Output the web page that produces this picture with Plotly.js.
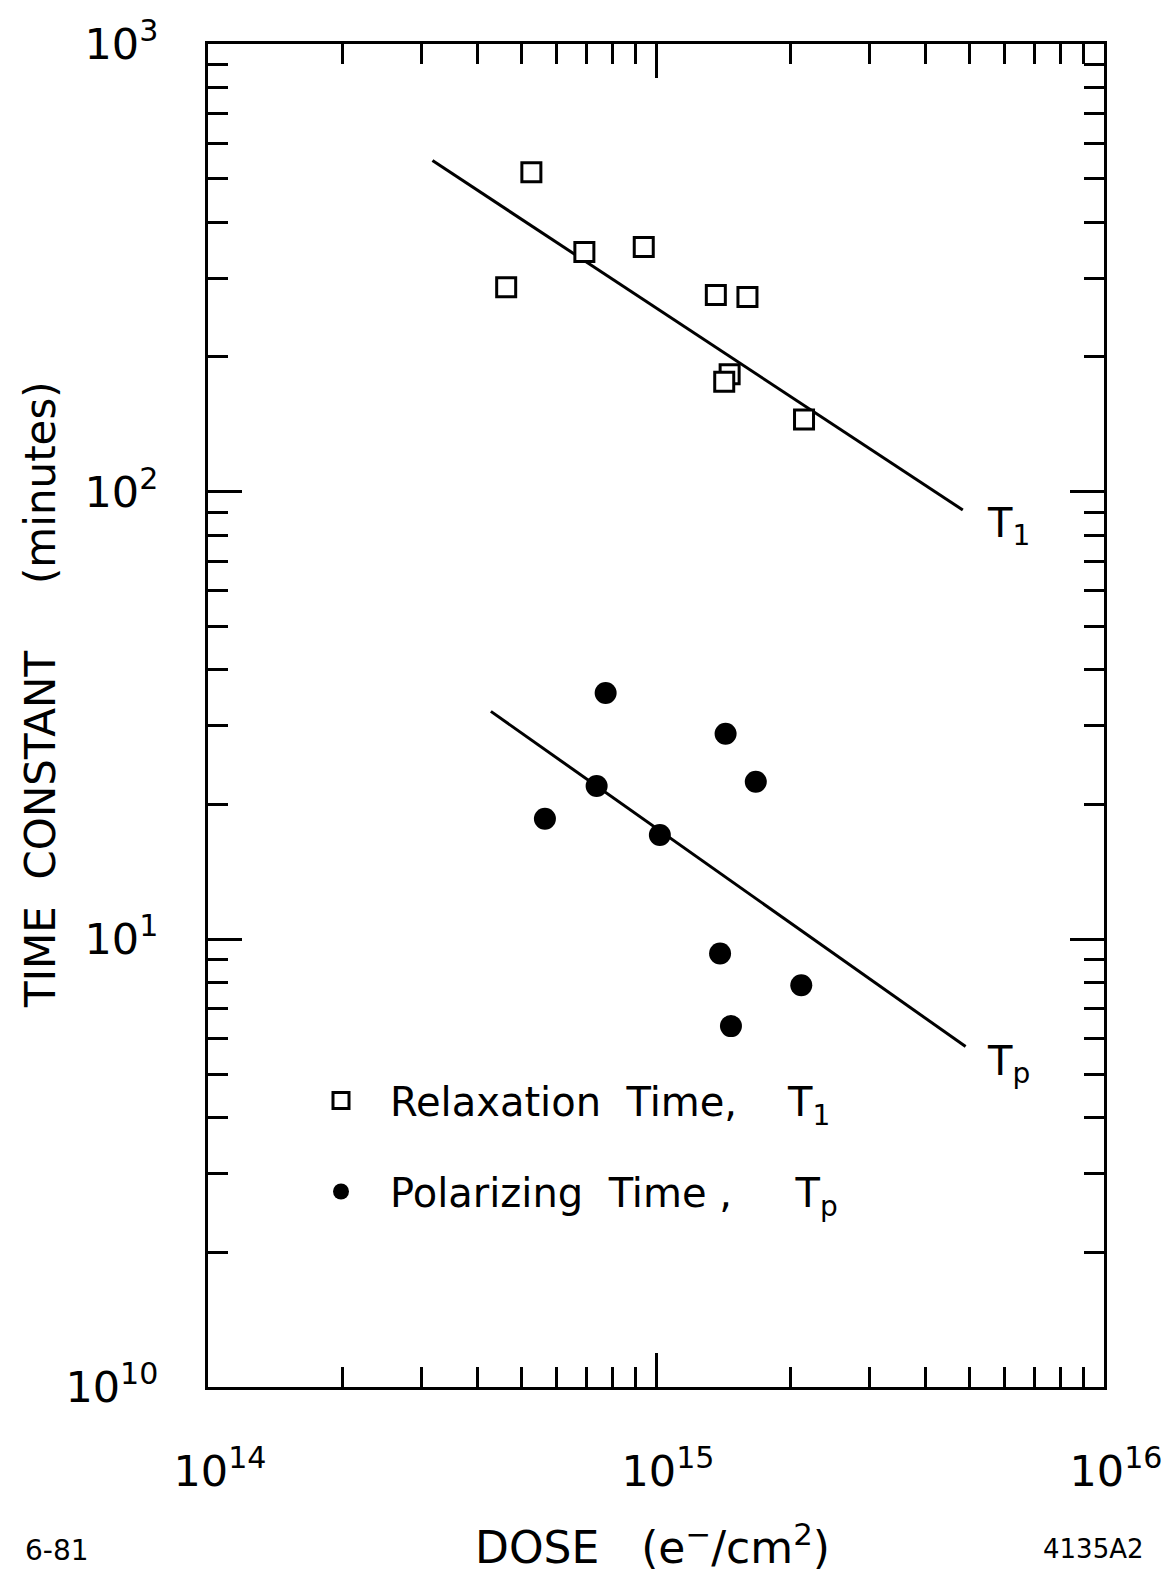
<!DOCTYPE html>
<html>
<head>
<meta charset="utf-8">
<script src="https://cdn.plot.ly/plotly-3.0.1.min.js"></script>
<style>
  html, body { margin: 0; padding: 0; background: #ffffff; }
  #chart { width: 1165px; height: 1572px; }
</style>
</head>
<body>
<div id="chart"></div>
<script>
// ---- Data ----
const t1Dose = [5.27e14, 4.63e14, 6.92e14, 9.39e14, 1.36e15, 1.60e15, 1.46e15, 1.42e15, 2.14e15];
const t1Time = [517, 286, 343, 352, 275, 272, 183, 176, 145];

const tpDose = [7.72e14, 1.43e15, 1.67e15, 7.37e14, 5.65e14, 1.02e15, 1.39e15, 2.11e15, 1.47e15];
const tpTime = [35.5, 28.8, 22.5, 22.0, 18.6, 17.1, 9.3, 7.9, 6.4];

const t1FitDose = [3.17e14, 4.84e15];
const t1FitTime = [549, 91];
const tpFitDose = [4.28e14, 4.91e15];
const tpFitTime = [32.3, 5.76];

const xMajorVals = [1e14, 1e15, 1e16];
const xMajorText = ['10<sup>14</sup>', '10<sup>15</sup>', '10<sup>16</sup>'];
const yMajorVals = [1, 10, 100, 1000];
const yMajorText = ['10<sup>10</sup>', '10<sup>1</sup>', '10<sup>2</sup>', '10<sup>3</sup>'];
const minorMultipliers = [2, 3, 4, 5, 6, 7, 8, 9];
const xMinorDecades = [1e14, 1e15];
const yMinorDecades = [1, 10, 100];

const seriesNames = ['Relaxation\u00a0\u00a0Time,\u00a0\u00a0\u00a0\u00a0T<sub>1</sub>',
                     'Polarizing\u00a0\u00a0Time\u00a0,\u00a0\u00a0\u00a0\u00a0\u00a0T<sub>p</sub>'];

// ---- Build ----
const xMinorVals = [];
xMinorDecades.forEach(d => minorMultipliers.forEach(m => xMinorVals.push(d * m)));
const yMinorVals = [];
yMinorDecades.forEach(d => minorMultipliers.forEach(m => yMinorVals.push(d * m)));

const FONT = 'DejaVu Sans, Liberation Sans, sans-serif';
const INK = '#000000';

const traces = [
  { x: t1FitDose, y: t1FitTime, mode: 'lines', line: {color: INK, width: 3}, showlegend: false, hoverinfo: 'skip' },
  { x: tpFitDose, y: tpFitTime, mode: 'lines', line: {color: INK, width: 3}, showlegend: false, hoverinfo: 'skip' },
  { x: t1Dose, y: t1Time, mode: 'markers', name: seriesNames[0], legendgroup: 'g1',
    marker: {symbol: 'square', size: 19, color: '#ffffff', line: {color: INK, width: 3}} },
  { x: tpDose, y: tpTime, mode: 'markers', name: seriesNames[1], legendgroup: 'g2',
    marker: {symbol: 'circle', size: 22, color: INK, line: {color: INK, width: 0}} }
];

const axisCommon = {
  type: 'log',
  showgrid: false,
  zeroline: false,
  showline: true,
  linecolor: INK,
  linewidth: 3,
  mirror: 'ticks',
  ticks: 'inside',
  tickcolor: INK,
  tickwidth: 3,
  ticklen: 34,
  tickmode: 'array',
  tickfont: {family: FONT, size: 43, color: INK}
};

const layout = {
  width: 1165,
  height: 1572,
  margin: {l: 208, r: 61, t: 44, b: 185, pad: 0},
  paper_bgcolor: '#ffffff',
  plot_bgcolor: '#ffffff',
  font: {family: FONT, color: INK},
  showlegend: true,
  legend: {
    x: (292 - 208) / 896, xanchor: 'left',
    y: (1387 - 1068) / 1343, yanchor: 'top',
    font: {family: FONT, size: 40, color: INK},
    itemwidth: 88,
    tracegroupgap: 36,
    traceorder: 'grouped',
    bgcolor: 'rgba(0,0,0,0)',
    borderwidth: 0
  },
  xaxis: Object.assign({}, axisCommon, {
    range: [14, 16],
    tickvals: xMajorVals,
    ticktext: xMajorText,
    ticklabelstandoff: 44,
    ticklabelshift: 12,
    minor: {tickmode: 'array', tickvals: xMinorVals, ticks: 'inside', ticklen: 20, tickwidth: 3, tickcolor: INK, showgrid: false}
  }),
  yaxis: Object.assign({}, axisCommon, {
    range: [0, 3],
    tickvals: yMajorVals,
    ticktext: yMajorText,
    ticklabelstandoff: 38,
    minor: {tickmode: 'array', tickvals: yMinorVals, ticks: 'inside', ticklen: 20, tickwidth: 3, tickcolor: INK, showgrid: false}
  }),
  annotations: [
    { text: 'T<sub>1</sub>', xref: 'paper', yref: 'paper',
      x: (985 - 208) / 896, y: (1387 - 526) / 1343, xanchor: 'left', yanchor: 'middle',
      showarrow: false, font: {family: FONT, size: 40, color: INK} },
    { text: 'T<sub>p</sub>', xref: 'paper', yref: 'paper',
      x: (985 - 208) / 896, y: (1387 - 1064) / 1343, xanchor: 'left', yanchor: 'middle',
      showarrow: false, font: {family: FONT, size: 40, color: INK} },
    { text: 'TIME\u00a0\u00a0CONSTANT\u00a0\u00a0\u00a0\u00a0\u00a0(minutes)', xref: 'paper', yref: 'paper',
      x: (40 - 208) / 896, y: (1387 - 695) / 1343, xanchor: 'center', yanchor: 'middle',
      textangle: -90, showarrow: false, font: {family: FONT, size: 42, color: INK} },
    { text: 'DOSE\u00a0\u00a0\u00a0(e<sup>\u2212</sup>/cm<sup>2</sup>)', xref: 'paper', yref: 'paper',
      x: (652 - 208) / 896, y: (1387 - 1544) / 1343, xanchor: 'center', yanchor: 'middle',
      showarrow: false, font: {family: FONT, size: 44, color: INK} },
    { text: '6-81', xref: 'paper', yref: 'paper',
      x: (57 - 208) / 896, y: (1387 - 1551) / 1343, xanchor: 'center', yanchor: 'middle',
      showarrow: false, font: {family: FONT, size: 28, color: INK} },
    { text: '4135A2', xref: 'paper', yref: 'paper',
      x: (1093 - 208) / 896, y: (1387 - 1549) / 1343, xanchor: 'center', yanchor: 'middle',
      showarrow: false, font: {family: FONT, size: 26, color: INK} }
  ]
};

Plotly.newPlot('chart', traces, layout, {displayModeBar: false, staticPlot: true});
</script>
</body>
</html>
